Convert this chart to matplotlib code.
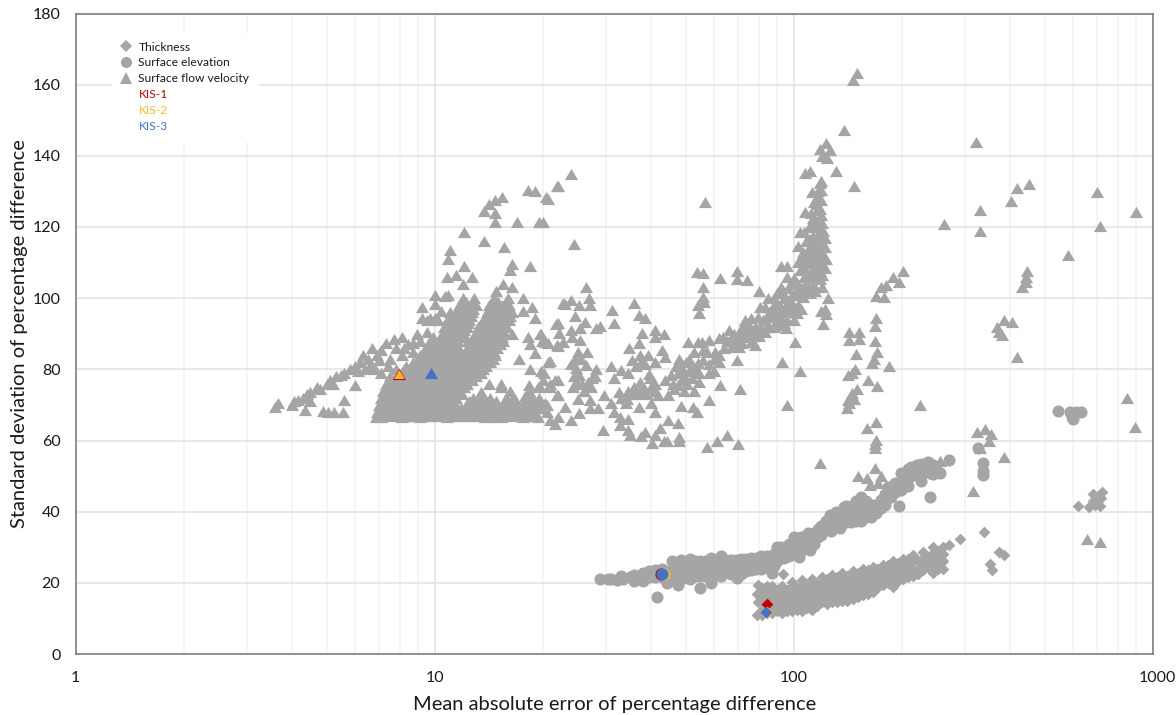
import matplotlib
matplotlib.use('Agg')
import matplotlib.pyplot as plt
from matplotlib.lines import Line2D
from matplotlib.patches import Rectangle
from matplotlib.transforms import ScaledTranslation
import numpy as np

plt.rcParams['font.family'] = ['Lato', 'DejaVu Sans']

GREY = '#a5a5a5'
RED = '#c00000'
ORANGE = '#ffb52e'
BLUE = '#4472c4'

# surface flow velocity (mean abs error, std dev)
vel_tail = [(3.6, 69.5), (3.67, 70.5), (4.0, 70), (4.05, 71), (4.15, 71.5), (4.3, 72), (4.4, 73), (4.5, 73.5),
            (4.7, 75), (4.8, 74.5), (5.0, 76), (5.1, 77), (5.2, 76), (5.3, 78), (5.5, 78.5), (5.6, 79), (5.8, 80),
            (6.0, 81), (6.2, 82), (6.3, 84), (6.5, 83), (6.7, 86), (6.9, 84), (7.3, 87.5), (7.7, 88.5), (8.1, 89),
            (7.5, 83), (8.1, 84), (8.4, 87), (9.1, 88), (8.9, 90), (9.5, 90.5), (6.8, 80), (7.1, 79), (7.4, 81),
            (4.35, 68.5), (4.9, 68.3), (5.05, 68), (5.25, 68), (5.55, 68), (5.6, 71.5), (6.0, 75.5), (4.5, 71),
            (6.1, 79.5), (6.4, 80), (6.6, 81), (7.0, 82.5), (7.8, 86), (8.2, 86), (8.7, 85), (8.7, 87.5), (7.1, 85.5)]

# fan of the velocity cloud: one y level, then the x values along it
fan_levels = [66.5, 68, 70, 72, 74, 76, 78, 80, 82, 84, 86, 88, 90, 92, 94, 96, 98, 100]
fan_x = [
    [6.85, 7.1, 8.1, 9.1, 10.8, 13.8, 14.5, 15.3, 17.6, 19.4, 22],
    [6.9, 7.3, 7.7, 8.1, 8.5, 8.8, 9.3, 9.8, 10.3, 10.8, 11.3, 11.8, 12.4, 13, 13.6, 14.2, 14.8, 15.4, 16, 17, 18, 18.8, 20.5],
    [7.0, 7.4, 7.8, 8.2, 8.6, 9.0, 9.5, 10, 10.5, 11, 11.5, 12.2, 12.8, 13.4, 14, 14.6, 15.5, 16.2, 17, 17.6, 18.3, 19.5, 20.5],
    [7.1, 7.5, 7.9, 8.3, 8.7, 9, 9.5, 10, 10.5, 11, 11.5, 12.8, 13.5, 14.3, 15.8, 16.5, 18, 18.6, 19.5],
    [7.2, 7.6, 8, 8.4, 8.8, 9.2, 9.7, 10.2, 10.7, 11.2, 11.7, 16.2, 18.3],
    [7.3, 7.7, 8.1, 8.5, 8.9, 9.3, 9.8, 10.3, 10.8, 11.3, 11.8, 12.3, 14.2, 15.3],
    [7.5, 7.9, 8.3, 8.7, 9.1, 9.5, 10, 10.5, 11, 11.5, 12, 12.5, 13],
    [7.8, 8.2, 8.6, 9, 9.5, 10, 10.5, 11, 11.5, 12, 12.5, 13, 13.6],
    [8.7, 9.2, 9.7, 10.2, 10.7, 11.2, 11.7, 12.2, 12.7, 13.2, 13.8, 14.3],
    [9.1, 9.6, 10.1, 10.6, 11.1, 11.6, 12.1, 12.6, 13.1, 13.6, 14.1, 14.7],
    [9.5, 10, 10.5, 11, 11.5, 12.3, 12.8, 13.3, 13.8, 14.3, 14.9],
    [9.7, 10.2, 10.7, 11.2, 11.6, 12.4, 12.9, 13.4, 13.9, 14.4, 15.5],
    [10.5, 11, 11.5, 12, 13, 13.5, 14, 14.5, 15, 15.7],
    [10.6, 10.8, 11.3, 11.8, 12.3, 13.2, 13.7, 14.2, 14.7, 15.2, 15.9],
    [10.2, 10.8, 11.3, 11.8, 12.5, 13.7, 14.2, 14.7, 15.2, 16.1],
    [11, 11.5, 12, 12.7, 14, 14.5, 15, 15.5, 16.4],
    [11.7, 12.3, 13, 14.2, 14.8, 15.4, 16.1],
    [12, 12.9, 14.6, 16],
]
fan2_levels = [67, 69, 71, 73, 75, 77, 79, 81, 83, 85, 87, 89, 91, 93, 95, 97, 99]
fan2_x = [
    [7.1, 7.5, 7.9, 8.3, 8.7, 9.05, 9.55, 10.05, 10.55, 11.05, 11.55, 12.1, 12.7, 13.3, 13.9, 14.5, 15.1, 15.7, 16.5, 17.5, 18.4],
    [7.2, 7.6, 8, 8.4, 8.8, 9.25, 9.75, 10.25, 10.75, 11.25, 11.85, 12.5, 13.1, 13.7, 14.3, 15, 15.8, 16.6, 17.3, 18, 18.9, 20],
    [7.3, 7.7, 8.1, 8.5, 8.85, 9.25, 9.75, 10.25, 10.75, 11.25, 12.5, 13.2, 13.9, 14.8, 16, 16.8, 18.2, 19],
    [7.4, 7.8, 8.2, 8.6, 9, 9.45, 9.95, 10.45, 10.95, 11.45, 11.9],
    [7.5, 7.9, 8.3, 8.7, 9.1, 9.55, 10.05, 10.55, 11.05, 11.55, 12.05],
    [7.6, 8, 8.4, 8.8, 9.2, 9.65, 10.15, 10.65, 11.15, 11.65, 12.15, 12.7],
    [7.9, 8.3, 8.7, 9.05, 9.5, 10, 10.5, 11, 11.5, 12, 12.5, 13, 13.5],
    [8.3, 8.7, 9.2, 9.7, 10.2, 10.7, 11.2, 11.7, 12.2, 12.7, 13.2, 13.9],
    [9, 9.4, 9.9, 10.4, 10.9, 11.4, 11.9, 12.4, 12.9, 13.4, 13.9, 14.5],
    [9.3, 9.8, 10.3, 10.8, 11.3, 11.8, 12.5, 13, 13.5, 14, 14.6],
    [9.6, 10.1, 10.6, 11.1, 11.5, 12.6, 13.1, 13.6, 14.1, 14.7, 15.2],
    [9.9, 10.4, 10.9, 11.4, 11.8, 12.8, 13.3, 13.8, 14.3, 14.8, 15.4],
    [10.7, 11.2, 11.7, 12.1, 13.3, 13.8, 14.3, 14.8, 15.4],
    [10.9, 11.4, 11.9, 12.4, 13.5, 14, 14.5, 15, 15.6],
    [11.2, 11.7, 12.2, 12.6, 14, 14.5, 15, 15.5, 16.2],
    [11.6, 12.2, 12.8, 14.2, 14.8, 15.4, 16],
    [12.2, 12.8, 14.4, 15, 15.8],
]

vel_upper = [(9.2, 97.5), (9.2, 94.5), (9.5, 94), (10, 101), (10.7, 100.5), (10.9, 101), (10, 98.5), (10.4, 96.5),
             (10, 94.5), (9.7, 94.5), (18.2, 130.5), (19, 130), (20.7, 128), (22, 131.5), (15.4, 128.5), (14.7, 127.5),
             (14.2, 126.5), (13.7, 124.5), (14.7, 124), (14.7, 121.5), (17, 121.5), (19.5, 121.5), (20, 121.5),
             (12.1, 118.5), (13.7, 116), (15.6, 114.5), (11, 113.5), (10.9, 111), (12.1, 109), (10.8, 106), (11.5, 106.5),
             (12.7, 106), (12, 104), (16.4, 109.5), (16.2, 108), (18.4, 109), (15.5, 104), (16.4, 103), (14.8, 102),
             (17.6, 100), (18.7, 97.6), (17.6, 96.5), (19, 94.5), (16.4, 90), (18.2, 89), (18.4, 87), (17.2, 83),
             (19, 84.5), (18.4, 80), (19.8, 90), (19.9, 88), (20.7, 87.5), (22, 86.5), (22, 93), (23, 98.5), (20.9, 82.3),
             (19.8, 79.5), (20, 77), (19.4, 75), (22, 77), (21, 76), (22, 72.8), (15.3, 75), (18.3, 75.5), (16.5, 72),
             (17.8, 72.5), (13.5, 73.5)]

vel_mid = [(24, 134.9), (21.9, 131.6), (20.4, 128.3), (24.5, 115.1), (56.6, 127), (26.4, 103.2), (22.8, 98.7), (24, 99.5),
           (26.9, 100), (25.2, 98.1), (27, 98.1), (24.6, 95), (21.8, 92.7), (26.3, 93.4), (23.9, 91), (25.4, 91.5),
           (22.2, 90.1), (24.2, 89.2), (25.4, 88.2), (28.2, 91.5), (28.9, 92.2), (19.7, 90), (20.3, 87.8), (21.9, 86.8),
           (22.7, 87.8), (26.6, 85), (25, 85), (24.6, 83), (20.7, 82), (23.9, 81.5), (26.4, 81.2), (28.2, 80), (24.8, 80.3),
           (31, 80.8), (33, 79.8), (34.6, 78.9), (35.4, 82.6), (37.3, 84), (31.5, 77.5), (27.5, 77.5), (24.5, 78), (25.8, 76),
           (24.3, 75), (21.6, 77), (21, 75), (20.1, 78.9), (19.7, 75), (27.3, 75), (26, 74), (21.9, 72.8), (20.3, 70.5),
           (19.7, 69), (25.1, 71.8), (27, 71.3), (23, 69.5), (27, 69), (28.5, 69), (25.3, 67.8), (23.9, 65.8), (20.9, 65.8),
           (21.6, 64.5), (29.4, 63), (29.6, 72.8), (31, 70.5), (31.6, 68), (32.8, 66.6), (34.6, 66), (32.8, 64.4), (34.6, 63),
           (34.9, 61.5), (37.5, 61.2), (38.5, 62.5), (41, 61.5), (42.3, 63.4), (40.2, 59.2), (43.6, 59.8), (44.4, 60),
           (48, 61), (48, 59.8), (44.7, 65.8), (47.5, 65), (41.2, 68), (40, 70.5), (37, 69.5), (48.5, 69.7), (52.5, 69.3),
           (53.8, 68), (58, 71.5), (62.5, 75.6), (71, 74.6), (96, 70), (104, 79.6), (92.5, 82.2), (101, 87.6), (69.5, 82.6),
           (60, 79.5), (57.2, 58.3), (61, 60), (65, 61.5), (70, 58.9), (118, 53.6), (31.2, 96.6), (31.6, 93.1), (36, 98.7),
           (37, 95.3), (38.6, 94.5), (37.8, 90.3), (41, 91), (41.2, 89), (43.6, 90), (37, 87.5), (34.8, 86), (50.8, 87.7),
           (42.9, 85.5), (43.7, 83.5), (41, 82), (39.2, 84), (37.6, 82), (36.4, 81), (38.5, 81.5), (25.5, 83), (25.2, 78.5),
           (24.8, 76.5), (28, 78), (26.8, 76.5), (53.9, 107.4), (56, 107.2), (62.5, 105.8), (69.7, 107.5), (69.3, 105.5),
           (74, 105), (80, 102), (55.8, 103), (55.8, 100.4), (56.3, 99), (54, 98), (54.5, 95.7)]

vel_band = [(32.7, 73.7), (34.3, 71.8), (36, 75), (37.2, 74), (38.3, 74.7), (40, 75), (41, 76), (43.9, 77), (42, 72.8),
            (44.6, 72.8), (37.4, 76.5), (34, 70.5), (33, 72), (35.5, 73), (39.5, 78.8), (39.9, 77.5), (47.5, 78.9), (48.6, 80.7),
            (48, 83), (51, 79.4), (52.5, 80.3), (54, 81.7), (56, 82.6), (52, 77.5), (54.5, 76.5), (47.5, 75.6), (49.5, 74),
            (52.8, 74), (48.7, 77), (57.5, 85), (52.8, 85), (56, 85.5), (54, 87.7), (55.5, 87.7), (58, 88.2), (60.5, 85), (62, 84),
            (62, 82), (64, 86), (62, 88.7), (63.5, 89), (66, 91), (67.5, 86.3), (70.5, 86.3), (69.7, 89), (71, 90), (73, 90.6),
            (76, 87.7), (78, 86.8), (75.5, 91), (79.5, 91), (81, 91.5), (83, 90.5), (73, 94), (76, 94.3), (79.5, 94.8),
            (80.5, 97.6), (85, 100), (83, 97.6), (87, 94.8), (90, 93.9), (94, 92.9), (95, 91.5), (96, 93.9), (102, 95.8),
            (100, 97.6), (97.5, 99.5), (93.5, 101.4), (96.5, 102.8), (100, 105.6), (95.5, 106), (92, 109), (95.5, 109), (90, 101.4),
            (87.8, 97.6), (92, 97.6), (101.5, 101.4), (95.5, 98.5), (103.5, 101.4), (105.5, 102.8), (108.7, 102.8), (106, 100.4),
            (111, 101.4), (66, 88), (68, 87.5), (72, 87.5), (74, 89), (77, 89.5), (85, 92.5), (89, 96), (98, 96), (94, 96),
            (91, 95), (99, 101), (88, 92), (50, 82), (47, 81), (51, 83), (54.5, 79), (58, 79), (45.5, 78.5), (36.5, 73), (39, 73),
            (98, 104), (92, 103), (88, 100), (103, 98), (105, 97), (100, 94), (97, 97), (65, 88), (68, 90), (72, 92), (82, 94),
            (84, 95), (90, 98.5), (94, 100), (60, 83), (58, 81.5), (49.5, 78), (46, 76), (70, 88), (75, 92.5), (78, 92), (80, 89.5),
            (84, 92), (86, 96.5), (91, 92.5), (49, 79.5), (53.5, 80), (50.5, 76), (34.5, 74), (41, 74), (46.5, 74.5)]

vel_plume = [(107.5, 135.3), (111, 135.6), (131, 135.8), (146.8, 131.6), (118.6, 132.3), (119, 130.4), (112.5, 129.7),
             (116, 128.5), (119, 127.6), (107.5, 124.3), (116, 126.5), (116, 124.8), (119, 123.4), (113.5, 122.5), (110, 120),
             (104, 118.7), (107, 118.7), (116, 121), (119, 119.5), (116, 117), (119, 116), (122, 114.5), (102.5, 114.7),
             (102.5, 110.3), (112, 115), (112, 112), (109, 110), (106.5, 108.5), (116, 113), (119, 112), (122, 108.5), (116, 110),
             (112, 107.5), (118, 107.5), (118, 105.5), (113.5, 104), (109, 104), (106, 101.5), (125, 100), (122.5, 97),
             (119, 96.5), (123, 95.5), (121, 92.6), (118, 142), (123, 143.6), (126, 141.6), (120, 140), (124, 139.5), (113, 117.5),
             (110, 114), (116, 108), (120, 103), (114, 110), (122, 117), (112, 124), (115, 122), (118, 125), (114, 127), (117, 130),
             (119, 133), (113, 120), (120, 121), (108, 116), (111, 116.5), (114, 114), (118, 118), (121, 119), (106, 113),
             (109, 112.5), (113, 113.5), (118, 114), (121, 112), (105, 111), (108, 110), (111, 110), (114, 108), (117, 111),
             (120, 110), (123, 111), (104, 108), (107, 106), (110, 106.5), (113, 106), (116, 105.5), (120, 106.5), (110, 102.5),
             (115, 102), (103, 104), (100, 101), (107, 103)]

vel_right = [(138, 147.3), (146, 161.3), (150, 163.3), (322, 143.9), (263, 120.9), (331, 124.7), (331, 118.9), (418, 130.9),
             (452, 132), (402, 127.4), (700, 129.8), (712, 120.3), (900, 124.3), (582, 112.1), (201, 107.5), (189, 105.9),
             (196, 104.6), (181, 103.7), (175, 103), (170, 100.6), (178, 100.2), (446, 107.5), (443, 106), (443, 104.6), (433, 103),
             (386, 93.9), (405, 93.4), (369, 91.8), (372, 90.6), (381, 89.6), (420, 83.4), (170, 94.3), (168, 92.2), (152, 90.6),
             (152, 88.4), (143, 90.6), (143, 88.3), (168, 88), (171, 85), (149, 84.2), (167, 83), (165, 81.9), (184, 81), (148, 80),
             (145, 78.9), (142, 78.4), (161, 77), (171, 75.4), (150, 74.4), (145, 73.3), (147, 71.6), (142, 71.4), (141, 69),
             (143, 70.4), (225, 70), (169, 65.1), (160, 63.4), (169, 60.1), (168, 58), (168.5, 59), (325, 62.5), (341, 63.2),
             (354, 61.7), (349, 59.8), (330, 58), (386, 55.5), (315, 45.9), (850, 72), (893, 63.9), (656, 32.2), (713, 31.6),
             (255, 54.3), (168, 52.2), (151, 50), (160, 49.4), (175, 50.1), (163, 47.5), (172, 48)]

# surface elevation
elev = [(28.9, 21), (30.3, 21), (32.1, 20.8), (33.1, 22), (35, 21.5), (35.8, 22.2), (35.8, 20.5), (38.1, 22.8), (38.1, 20.6),
        (39.5, 23.2), (39.5, 21.5), (41, 23.5), (41, 21.5), (43, 24), (43, 21.5), (44.5, 20), (44.5, 23), (41.5, 16.1), (47.7, 19.4),
        (55, 18.5), (59, 20), (69.7, 21.3), (45.7, 26.2), (45.7, 24), (45.7, 22.5), (45.7, 21), (48.4, 26.5), (48.4, 24.5),
        (48.4, 22.5), (48.4, 21), (51.5, 26.7), (51.5, 24.5), (51.5, 22.5), (51.5, 21), (55, 26), (55, 24), (55, 22), (58.7, 27),
        (58.7, 25), (58.7, 23), (58.7, 20.8), (62.6, 27.5), (62.6, 25.5), (62.6, 23.5), (62.6, 22), (66.7, 26.5), (66.7, 24.5),
        (66.7, 22.5), (71.2, 26.7), (71.2, 24.5), (71.2, 22.5), (75.9, 27), (75.9, 25), (75.9, 23.5), (81, 27.5), (81, 25.5), (81, 24),
        (86.4, 26.5), (86.4, 25), (87, 22.8), (90, 30), (90, 28), (90, 26), (94, 29), (94, 27), (100.5, 33), (100.5, 31), (100.5, 29),
        (105, 33), (105, 31), (105, 29), (103.4, 27.3), (109.5, 34), (109.5, 32), (109.5, 30), (111, 29.2), (114, 34), (114, 31),
        (119.5, 36), (119.5, 33.5), (126, 39), (127, 37), (127, 34.5), (138, 41.4), (135, 38), (135, 35.5), (144, 41.5), (144, 39),
        (144, 37), (154, 44), (154, 42), (154, 39.5), (154, 37.5), (164, 41), (164, 38.5), (168, 40), (172, 41.5), (175, 43.3),
        (180, 42), (180, 45), (187, 46), (187, 44), (192, 48), (192, 45.5), (199, 50.8), (199, 48), (199, 46), (205, 51), (205, 49),
        (212, 52.5), (212, 50), (220, 53), (220, 50.5), (228, 53.5), (228, 51), (236, 54), (236, 51.5), (245, 53), (245, 50.5),
        (226, 48.5), (208, 47.3), (255, 50.8), (271, 54.5), (239, 44.2), (196, 41.7), (326, 58), (337, 53.8), (337, 51.3), (337, 50.3),
        (545, 68.4), (590, 68.1), (600, 66), (630, 68.1), (597, 66.7), (610, 68.1)]
elev_fill = [(47, 25.3), (47, 23.3), (47, 21.8), (50, 25.5), (50, 23.5), (50, 21.8), (53, 26), (53, 24), (53, 22), (57, 26), (57, 24),
             (57, 22), (60.5, 26.5), (60.5, 24.5), (60.5, 22.5), (64.5, 26.5), (64.5, 24.5), (64.5, 23), (69, 26.5), (69, 24.5),
             (69, 22.5), (73.5, 26.8), (73.5, 25), (73.5, 23.2), (78.5, 27), (78.5, 25.2), (78.5, 23.8), (84, 27.5), (84, 26), (84, 24.5),
             (88, 28), (88, 26.5), (88, 24.8), (92, 30), (92, 28), (97, 31), (97, 29), (97, 27.5), (103, 32.5), (103, 30.5), (107, 33),
             (107, 31), (112, 33.5), (112, 31.5), (117, 35), (117, 33), (123, 37.5), (123, 35.5), (131, 40), (131, 38), (131, 36),
             (140, 41.5), (140, 39), (140, 37), (149, 43), (149, 41), (149, 39), (149, 37.5), (159, 43), (159, 40.5), (159, 38.5),
             (166, 42), (39.5, 22.5), (41, 22.5), (43, 22.8), (44.5, 21.5), (36.5, 21.4), (37, 21.4), (33.5, 21.2), (31, 21),
             (175, 41), (170, 39.5), (178, 43), (183, 44), (183, 47), (190, 47), (196, 47), (202, 50), (202, 47.5), (208, 52), (208, 50),
             (216, 52.5), (216, 50.5), (224, 53), (224, 51), (232, 53.5), (232, 51.5), (240, 53.5), (240, 51), (250, 51.5)]

# thickness: columns again, x then the y values in that column
thick_cols_x = [81.7, 84.2, 86.9, 89.7, 92.7, 95.8, 99, 102, 105.5, 109, 112.5, 116, 120, 124, 128, 132, 136.7, 141, 146, 151,
                155.8, 161, 166, 171, 177, 183, 189, 195, 201, 208, 215, 222, 229, 236, 244, 252, 260]
thick_cols_y = [
    [18.5, 16.5, 14.5, 12.5, 11], [19, 17.5, 15.5, 13.5, 11.5], [19, 17, 15, 13, 11.5], [18, 16, 14, 12],
    [19, 17, 15, 13, 11.5], [18, 16, 14, 12], [19.2, 17.5, 15.5, 13.5, 12], [18.5, 16.5, 14.5, 12.5],
    [19.5, 17.5, 15.5, 13.5, 12], [19, 17, 15, 13], [20, 18, 16, 14, 12.5], [19.5, 17.5, 15.5, 13.5],
    [20.5, 18.5, 16.5, 14.5], [19.5, 17.5, 15.5, 14], [20.5, 18.5, 16.5, 14.5], [20, 18, 16, 14.5],
    [21, 19, 17, 15], [20.5, 18.5, 16.5, 15], [21.5, 19.5, 17.5, 15.5], [21, 19, 17, 16], [22, 20, 18, 16.5],
    [22, 20, 18, 17], [23, 21, 19, 17.5], [22, 20, 18.5], [23, 21, 19.5], [23.5, 21.5, 20], [24, 22, 20.5, 18.8],
    [24, 22, 20.5], [25, 23, 21], [25, 23, 21.5], [26, 24, 22], [26, 24, 22.5], [27, 25, 23.5], [27, 25, 24.5],
    [28.5, 26.5, 24.5, 22.7], [29, 27, 25, 24], [30, 28, 26, 23.8],
]
thick_top = [(99, 20.2), (105.5, 20.7), (112.5, 21), (120, 21.7), (128, 22.3), (136.7, 22.8), (146, 23.3), (155.8, 23.8), (166, 24.5),
             (177, 25), (189, 26), (201, 26.8), (215, 27.7), (229, 28.7), (244, 30), (124, 21), (132, 21.5), (141, 22), (151, 22.7),
             (161, 23.5), (171, 24), (183, 25), (195, 25.7), (208, 26.7)]
thick_extra = [(79.5, 19.5), (79, 17), (79.5, 14.5), (79, 11), (93.5, 22.5), (271, 30.5), (290, 32.2), (338, 34.3), (374, 28.6),
               (386, 27.8), (353, 25.3), (357, 23.6), (621, 41.7), (721, 45.6), (683, 45), (705, 43.8), (690, 41.8), (665, 41.3),
               (720, 43.8), (700, 42.5), (680, 43), (712, 41.5)]

# KIS-1, KIS-2, KIS-3
kis_colors = [RED, ORANGE, BLUE]
kis_vel_x = [7.95, 7.95, 9.75]
kis_vel_y = [78.6, 78.6, 78.9]
kis_elev_x = [42.6, 43.4, 43]
kis_elev_y = [22.6, 22.6, 22.6]
kis_thick_x = [84.4, 84.5, 83.5]
kis_thick_y = [14, 11.7, 11.9]

xticks = [1, 10, 100, 1000]
yticks = list(range(0, 181, 20))

fan_pts = [(x, y) for y, row in zip(fan_levels + fan2_levels, fan_x + fan2_x) for x in row]
vel = np.array(fan_pts + vel_tail + vel_upper + vel_mid + vel_band + vel_plume + vel_right)
thick_pts = [(x, y) for x, col in zip(thick_cols_x, thick_cols_y) for y in col]
thick = np.array(thick_pts + thick_top + thick_extra)
elev = np.array(elev + elev_fill)

tri = [(-1, -0.85), (1, -0.85), (0, 0.85), (-1, -0.85)]
S_TRI, S_CIRC, S_DIAM = 90, 76, 36

fig = plt.figure(figsize=(11.76, 7.15), dpi=100)
ax = fig.add_axes([75.7 / 1176, 1 - 654 / 715, 1077 / 1176, 640.5 / 715])
ax.set_xscale('log')
ax.set_xlim(1, 1000)
ax.set_ylim(0, 180)

ax.grid(True, which='major', color='#e2e2e2', linewidth=1.1)
ax.grid(True, which='minor', axis='x', color='#f2f2f2', linewidth=1.1)
ax.set_axisbelow(True)
ax.tick_params(which='both', length=0)
for s in ax.spines.values():
    s.set_color('#7f7f7f')
    s.set_linewidth(1.2)

ax.scatter(vel[:, 0], vel[:, 1], marker=tri, s=S_TRI, color=GREY, linewidths=0, zorder=3)
ax.scatter(elev[:, 0], elev[:, 1], marker='o', s=S_CIRC, color=GREY, linewidths=0, zorder=3)
ax.scatter(thick[:, 0], thick[:, 1], marker='D', s=S_DIAM, color=GREY, linewidths=0, zorder=3)
kis_tri_s = [S_TRI, 58, S_TRI]
for i in range(3):
    ax.scatter(kis_vel_x[i], kis_vel_y[i], marker=tri, s=kis_tri_s[i], color=kis_colors[i], linewidths=0, zorder=4)
    ax.scatter(kis_elev_x[i], kis_elev_y[i], marker='o', s=S_CIRC, color=kis_colors[i], linewidths=0, zorder=4)
    ax.scatter(kis_thick_x[i], kis_thick_y[i], marker='D', s=S_DIAM, color=kis_colors[i], linewidths=0, zorder=4)

ax.set_xticks(xticks)
ax.set_xticklabels([str(t) for t in xticks], fontsize=11.5, color='#1a1a1a')
ax.set_yticks(yticks)
ax.set_yticklabels([str(t) for t in yticks], fontsize=11.5, color='#1a1a1a')
ax.tick_params(axis='x', pad=12)
ax.tick_params(axis='y', pad=11)
# the 1000 label sits a little right of its grid line
last = ax.get_xticklabels()[-1]
last.set_transform(last.get_transform() + ScaledTranslation(0.05, 0, fig.dpi_scale_trans))
ax.set_xlabel('Mean absolute error of percentage difference', fontsize=14.5, color='#1a1a1a')
ax.set_ylabel('Standard deviation of percentage difference', fontsize=14.5, color='#1a1a1a')
ax.xaxis.set_label_coords(0.5, -0.0655)
ax.yaxis.set_label_coords(-0.0446, 0.5)

# white panel behind the legend cuts the grid lines
ax.add_patch(Rectangle((0.0337, 0.8), 0.1365, 0.1696, transform=ax.transAxes, facecolor='white', edgecolor='none', zorder=1.5))

handles = [Line2D([], [], ls='', marker='D', ms=6, color=GREY, mew=0),
           Line2D([], [], ls='', marker='o', ms=8, color=GREY, mew=0),
           Line2D([], [], ls='', marker='^', ms=8.5, color=GREY, mew=0),
           Line2D([], [], ls=''), Line2D([], [], ls=''), Line2D([], [], ls='')]
labels = ['Thickness', 'Surface elevation', 'Surface flow velocity', 'KIS-1', 'KIS-2', 'KIS-3']
leg = ax.legend(handles, labels, loc='upper left', bbox_to_anchor=(0.0337, 0.9665), borderaxespad=0,
                fontsize=8.65, frameon=False, handlelength=1.2, handletextpad=0.45, labelspacing=0.4, borderpad=0.55)
for t, c in zip(leg.get_texts(), ['#1a1a1a', '#1a1a1a', '#1a1a1a', RED, ORANGE, BLUE]):
    t.set_color(c)

fig.savefig('out.png', dpi=100)
